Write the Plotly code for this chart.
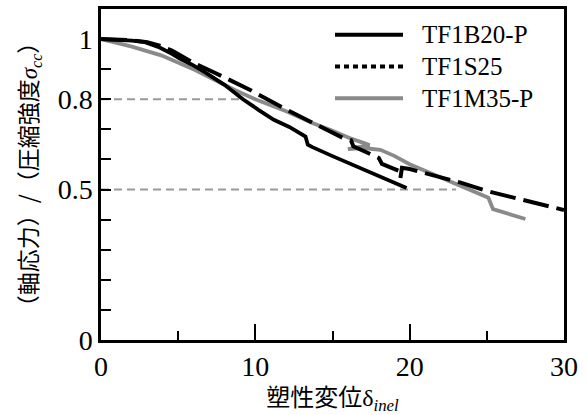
import plotly.graph_objects as go

# ---- data ----
series_names = ["TF1B20-P", "TF1S25", "TF1M35-P"]

b20_x = [0, 1.0, 2.0, 2.85, 3.8, 4.6, 5.1, 5.9, 6.7, 8.0, 9.2, 10.2, 11.2, 12.2, 13.1, 13.25, 13.4, 13.7, 15.0, 17.0, 19.8]
b20_y = [1.0, 0.998, 0.995, 0.99, 0.972, 0.951, 0.935, 0.915, 0.891, 0.848, 0.80, 0.765, 0.732, 0.708, 0.683, 0.676, 0.649, 0.641, 0.611, 0.566, 0.505]

s25_x = [0, 1.0, 2.0, 3.0, 3.8, 4.6, 5.3, 6.1, 7.3, 8.9, 9.7, 12.0, 14.0, 15.7, 16.2, 16.35, 18.0, 18.2, 19.3, 19.4, 19.5, 20.0, 23.3, 25.0, 30.0]
s25_y = [1.0, 0.999, 0.996, 0.99, 0.978, 0.962, 0.94, 0.918, 0.89, 0.852, 0.83, 0.766, 0.716, 0.671, 0.664, 0.644, 0.605, 0.585, 0.562, 0.538, 0.572, 0.568, 0.523, 0.495, 0.432]

m35_x = [0, 2.0, 3.9, 6.1, 8.7, 10.0, 12.0, 13.7, 15.0, 16.1, 17.0, 17.4, 16.0, 17.0, 18.1, 19.0, 20.0, 21.0, 22.4, 23.7, 25.1, 25.4, 27.5]
m35_y = [1.0, 0.975, 0.946, 0.897, 0.83, 0.80, 0.76, 0.721, 0.695, 0.671, 0.655, 0.648, 0.634, 0.638, 0.632, 0.612, 0.584, 0.562, 0.534, 0.506, 0.473, 0.435, 0.402]

ref_levels = [0.8, 0.5]
ref_ends = [9.2, 23.0]

x_ticks = [0, 10, 20, 30]
y_ticks = [0, 0.5, 0.8, 1]
y_tick_text = ["0", "0.5", "0.8", "1"]

# ---- styles ----
BLACK = "#000000"
GRAY = "#8a8a8a"
REFGRAY = "#9a9a9a"
SERIF = "Liberation Serif"
CJK = "Noto Sans CJK JP"

fig = go.Figure()

for lv, xe in zip(ref_levels, ref_ends):
    fig.add_trace(go.Scatter(x=[0, xe], y=[lv, lv], mode="lines", showlegend=False,
                             line=dict(color=REFGRAY, width=2, dash="8px,5px"), hoverinfo="skip"))

fig.add_trace(go.Scatter(x=m35_x, y=m35_y, mode="lines", name=series_names[2], showlegend=False,
                         line=dict(color=GRAY, width=3.8)))
fig.add_trace(go.Scatter(x=b20_x, y=b20_y, mode="lines", name=series_names[0], showlegend=False,
                         line=dict(color=BLACK, width=3.8)))
fig.add_trace(go.Scatter(x=s25_x, y=s25_y, mode="lines", name=series_names[1], showlegend=False,
                         line=dict(color=BLACK, width=4, dash="26px,8px")))

# ---- manual legend ----
leg_rows = [0.922, 0.826, 0.730]
leg_styles = [dict(color=BLACK, width=4), dict(color=BLACK, width=4, dash="5px,4px"), dict(color=GRAY, width=4)]
for name, yy, st in zip(series_names, leg_rows, leg_styles):
    fig.add_shape(type="line", xref="paper", yref="paper", x0=0.5054, x1=0.6523, y0=yy, y1=yy, line=st)
    fig.add_annotation(xref="paper", yref="paper", x=0.689, y=yy, text=name, showarrow=False,
                       xanchor="left", yanchor="middle", font=dict(family=SERIF, size=25, color=BLACK))

x_title = ('塑性変位<span style="font-family:Liberation Serif">δ</span>'
           '<sub><i><span style="font-family:Liberation Serif">inel</span></i></sub>')
y_title = ('（軸応力）/（圧縮強度<i><span style="font-family:Liberation Serif">σ</span></i>'
           '<sub><i><span style="font-family:Liberation Serif">cc</span></i></sub>）')

fig.update_layout(
    width=587, height=415,
    margin=dict(l=101, r=23, t=6, b=75),
    plot_bgcolor="white", paper_bgcolor="white",
    showlegend=False,
    xaxis=dict(range=[0, 30], tickvals=x_ticks, ticks="inside", ticklen=16, tickwidth=2, tickcolor=BLACK,
               showline=True, linecolor=BLACK, linewidth=2.5, mirror=True, showgrid=False, zeroline=False,
               tickfont=dict(family=SERIF, size=28, color=BLACK),
               minor=dict(dtick=5, tick0=0, ticks="inside", ticklen=9, tickwidth=2, tickcolor=BLACK, showgrid=False),
               title=dict(text=x_title, font=dict(family=CJK, size=24, color=BLACK), standoff=4)),
    yaxis=dict(range=[0, 1.1], tickvals=y_ticks, ticktext=y_tick_text, ticks="inside", ticklen=10, tickwidth=2,
               tickcolor=BLACK, showline=True, linecolor=BLACK, linewidth=2.5, mirror=True, showgrid=False,
               zeroline=False, tickfont=dict(family=SERIF, size=28, color=BLACK),
               minor=dict(dtick=0.1, tick0=0, ticks="inside", ticklen=10, tickwidth=2, tickcolor=BLACK, showgrid=False),
               title=dict(text=y_title, font=dict(family=CJK, size=23, color=BLACK), standoff=14)),
)

fig.write_html("out.html")
